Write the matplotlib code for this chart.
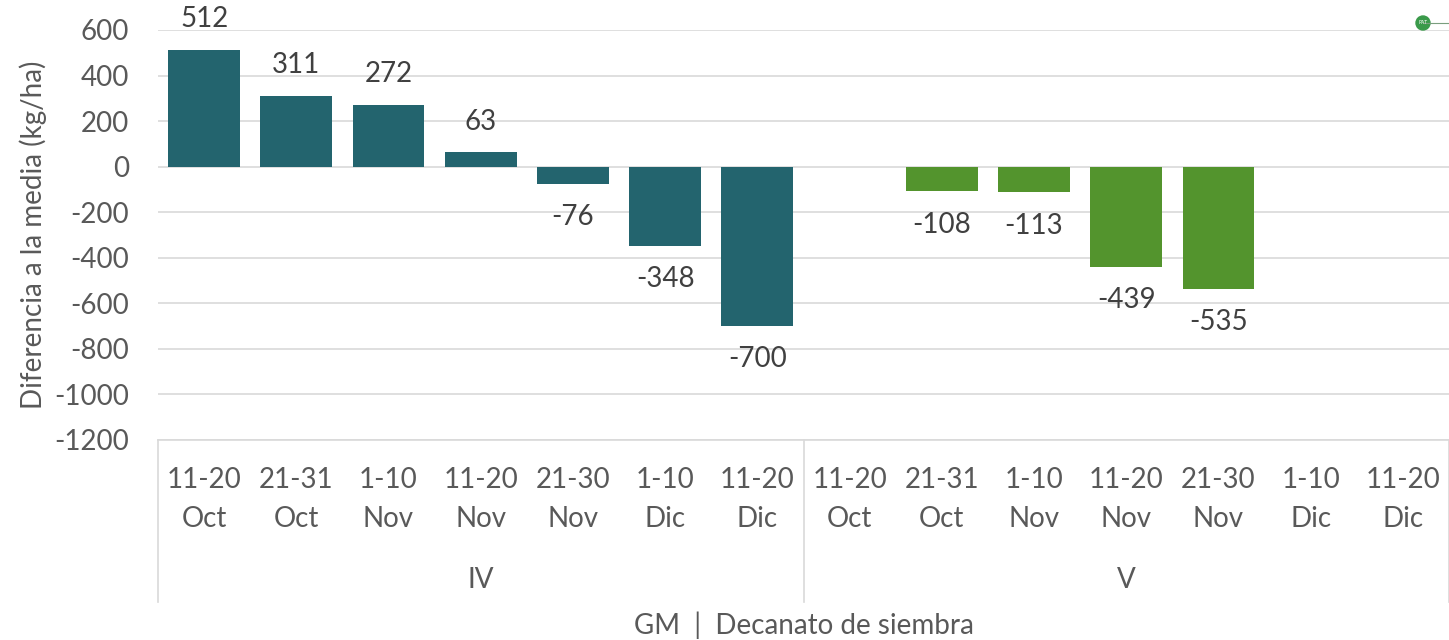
import numpy as np
import matplotlib.pyplot as plt
from matplotlib.transforms import blended_transform_factory
from matplotlib.patches import Circle

# categories (two-level axis)
decadas = ["11-20\nOct", "21-31\nOct", "1-10\nNov", "11-20\nNov", "21-30\nNov", "1-10\nDic", "11-20\nDic"]
grupos = ["IV", "V"]
# values per maturity group (nan = no bar)
valores_iv = [512, 311, 272, 63, -76, -348, -700]
valores_v = [np.nan, -108, -113, -439, -535, np.nan, np.nan]

col_iv = "#23646E"
col_v = "#53942D"
gris_txt = "#595959"
gris_lin = "#D9D9D9"
fs = 20

plt.rcParams['font.family'] = ['Lato', 'DejaVu Sans']
plt.rcParams['axes.unicode_minus'] = False

W, H = 1449, 640
fig = plt.figure(figsize=(W / 100, H / 100), dpi=100)
L, R, B, T = 158, 1449, 440, 30
ax = fig.add_axes([L / W, (H - B) / H, (R - L) / W, (B - T) / H])

n = len(decadas)
x_iv = np.arange(n)
x_v = np.arange(n) + n
ax.bar(x_iv, valores_iv, width=0.78, color=col_iv, zorder=3)
ax.bar(x_v, valores_v, width=0.78, color=col_v, zorder=3)

# data labels
for xs, vals in ((x_iv, valores_iv), (x_v, valores_v)):
    for x, v in zip(xs, vals):
        if np.isnan(v):
            continue
        off = 22 if v >= 0 else -24
        ax.annotate(f"{v:.0f}", (x, v), xytext=(0, off), textcoords="offset points",
                    ha="center", va="center", fontsize=fs, color="#404040",
                    annotation_clip=False)

ax.set_xlim(-0.5, 2 * n - 0.5)
ax.set_ylim(-1200, 600)
ax.set_yticks(np.arange(-1200, 601, 200))
ax.tick_params(axis="y", length=0, pad=21, labelsize=fs, labelcolor=gris_txt)
ax.set_xticks([])
ax.grid(axis="y", color=gris_lin, linewidth=1.2, zorder=0)
ax.set_axisbelow(True)
for s in ("top", "right", "left"):
    ax.spines[s].set_visible(False)
ax.spines["bottom"].set_color(gris_lin)
ax.spines["bottom"].set_linewidth(1.2)

# multi-level x axis labels
h_ax = B - T
def fy(py):
    return -(py - B) / h_ax

tr = blended_transform_factory(ax.transData, ax.transAxes)
for xs in (x_iv, x_v):
    for x, lab in zip(xs, decadas):
        l1, l2 = lab.split("\n")
        ax.text(x, fy(480), l1, transform=tr, ha="center", va="center", fontsize=fs, color=gris_txt)
        ax.text(x, fy(519), l2, transform=tr, ha="center", va="center", fontsize=fs, color=gris_txt)
for i, g in enumerate(grupos):
    ax.text(i * n + (n - 1) / 2, fy(580), g, transform=tr, ha="center", va="center",
            fontsize=fs, color=gris_txt)
for xb in (-0.5, n - 0.5, 2 * n - 0.5):
    ax.plot([xb, xb], [0, fy(602)], transform=tr, color=gris_lin, lw=1.2, clip_on=False)

ax.set_ylabel("Diferencia a la media (kg/ha)", fontsize=fs, color=gris_txt, labelpad=5)
fig.text((L + R) / 2 / W, 1 - 625 / H, "GM  |  Decanato de siembra", ha="center", va="center",
         fontsize=fs, color=gris_txt)

# small logo at top right
ax_logo = fig.add_axes([0, 0, 1, 1], zorder=5)
ax_logo.set_xlim(0, W)
ax_logo.set_ylim(H, 0)
ax_logo.axis("off")
ax_logo.plot([1423, 1449], [23, 23], color="#7A9E7E", lw=0.8)
ax_logo.add_patch(Circle((1423, 23), 7, color="#3A9A4A"))
ax_logo.text(1423, 23, "PAT", fontsize=3.5, color="white", ha="center", va="center")

fig.savefig("out.png", dpi=100)
